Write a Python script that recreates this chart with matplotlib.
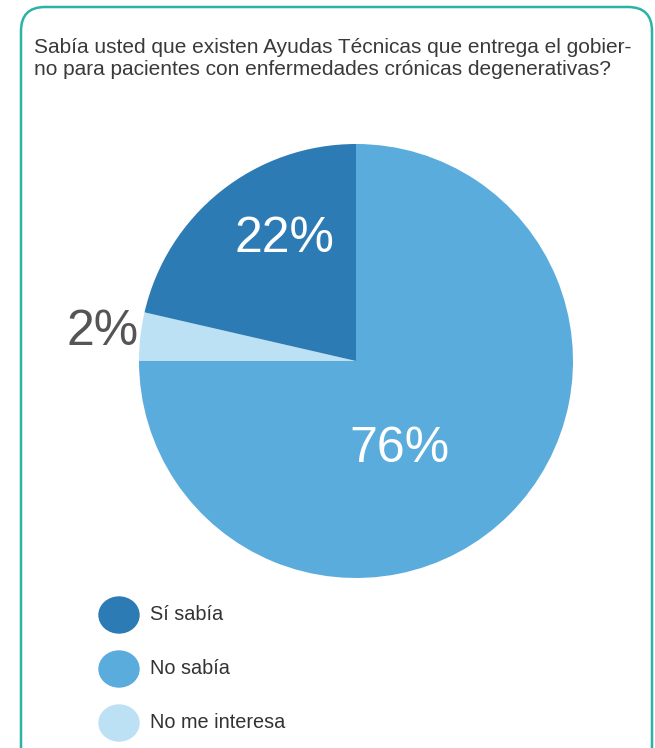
import matplotlib.pyplot as plt
from matplotlib.patches import FancyBboxPatch, Ellipse

plt.rcParams['font.family'] = ['Liberation Sans', 'DejaVu Sans']

title = ('Sabía usted que existen Ayudas Técnicas que entrega el gobier-\n'
         'no para pacientes con enfermedades crónicas degenerativas?')

# clockwise from the top, as drawn
categories = ['No sabía', 'No me interesa', 'Sí sabía']
shares = [75.0, 3.6, 21.4]          # slice sizes
pct_labels = ['76%', '2%', '22%']   # printed values
colors = ['#5aacdc', '#bce0f4', '#2c7bb4']

legend_order = ['Sí sabía', 'No sabía', 'No me interesa']

W, H = 655, 748
fig = plt.figure(figsize=(W / 100, H / 100), dpi=100)

# background layer in pixel coords
bg = fig.add_axes([0, 0, 1, 1])
bg.set_xlim(0, W)
bg.set_ylim(H, 0)
bg.axis('off')

box = FancyBboxPatch((21, 7), 631, 800, boxstyle='round,pad=0,rounding_size=24',
                     fill=False, edgecolor='#2ab3a6', linewidth=1.8)
bg.add_patch(box)

bg.text(34, 58.5, title, fontsize=15, color='#3a3a3a', va='center',
        ha='left', linespacing=1.22)

for i, name in enumerate(legend_order):
    c = colors[categories.index(name)]
    y = 615 + i * 54
    bg.add_patch(Ellipse((119, y), 40, 36, color=c))
    bg.text(150, y, name, fontsize=14.3, color='#333333', va='center', ha='left')

# pie
cx, cy, r = 356, 361, 217
ax = fig.add_axes([(cx - r) / W, (H - cy - r) / H, 2 * r / W, 2 * r / H])
wedges, _ = ax.pie(shares, colors=colors, startangle=90, counterclock=False,
                   radius=1, wedgeprops=dict(linewidth=0))
ax.set_xlim(-1, 1)
ax.set_ylim(-1, 1)
ax.set_aspect('equal')
ax.axis('off')

label_pos = [(0.2, -0.405), (-1.17, 0.135), (-0.33, 0.56)]
label_col = ['white', '#555555', 'white']
for txt, (x, y), col in zip(pct_labels, label_pos, label_col):
    ax.text(x, y, txt, fontsize=36, color=col, ha='center', va='center')

fig.savefig('out.png', dpi=100)
